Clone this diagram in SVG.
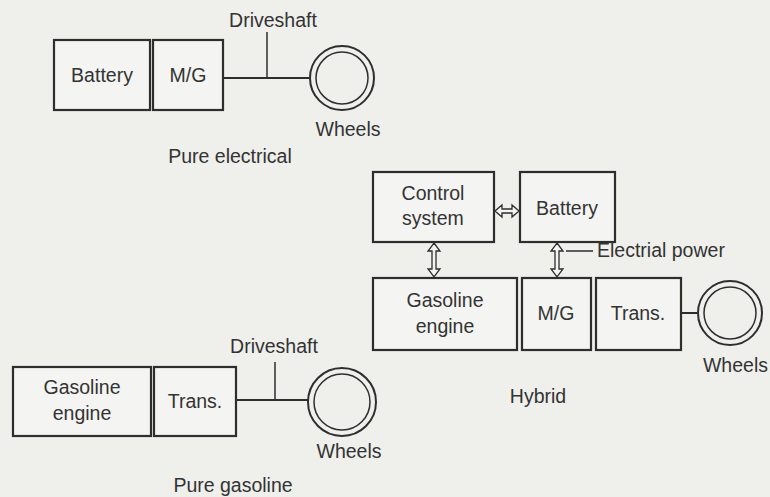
<svg xmlns="http://www.w3.org/2000/svg" width="770" height="497" viewBox="0 0 770 497">
<style>
.box{fill:#f4f4f2;stroke:#2e2e2e;stroke-width:2.2}
.ln{fill:none;stroke:#2e2e2e;stroke-width:2}
.thin{fill:none;stroke:#2e2e2e;stroke-width:1.5}
.ha{fill:#f4f4f2;stroke:#2e2e2e;stroke-width:1.3;stroke-linejoin:miter}
text{font-family:"Liberation Sans",Arial,sans-serif;font-size:19.5px;fill:#333;text-anchor:middle}
</style>
<rect width="770" height="497" fill="#efefec"/>

<g id="connectors">
  <line class="ln" x1="223" y1="78" x2="310" y2="78"/>
  <line class="thin" x1="267" y1="32" x2="267" y2="78"/>
  <line class="ln" x1="236" y1="400" x2="308" y2="400"/>
  <line class="thin" x1="275" y1="362" x2="275" y2="400"/>
  <line class="ln" x1="681" y1="313" x2="697" y2="313"/>
  <polygon class="ha" points="495,211 502,205 502,209 512,209 512,205 519,211 512,217 512,213 502,213 502,217"/>
  <polygon class="ha" points="434,243 440,251 436,251 436,269 440,269 434,277 428,269 432,269 432,251 428,251"/>
  <polygon class="ha" points="557,243 563,251 559,251 559,269 563,269 557,277 551,269 555,269 555,251 551,251"/>
  <line class="thin" x1="566" y1="251" x2="593" y2="251"/>
</g>

<g id="pe-battery"><rect class="box" x="54" y="40" width="96" height="70"/><text x="102" y="82">Battery</text></g>
<g id="pe-mg"><rect class="box" x="153" y="40" width="70" height="70"/><text x="188" y="82">M/G</text></g>
<g id="pe-wheel"><circle class="ln" cx="342" cy="78" r="32"/><circle class="thin" cx="342" cy="78" r="26"/></g>
<text x="273" y="27">Driveshaft</text>
<text x="348" y="136">Wheels</text>
<text x="230" y="163">Pure electrical</text>

<g id="hy-control"><rect class="box" x="373" y="172" width="121" height="70"/><text x="433" y="200">Control</text><text x="433" y="225">system</text></g>
<g id="hy-battery"><rect class="box" x="520" y="172" width="95" height="70"/><text x="567" y="215">Battery</text></g>
<g id="hy-engine"><rect class="box" x="373" y="278" width="144" height="72"/><text x="445" y="307">Gasoline</text><text x="445" y="333">engine</text></g>
<g id="hy-mg"><rect class="box" x="522" y="278" width="69" height="72"/><text x="556" y="320">M/G</text></g>
<g id="hy-trans"><rect class="box" x="596" y="278" width="85" height="72"/><text x="638" y="320">Trans.</text></g>
<g id="hy-wheel"><circle class="ln" cx="730" cy="313" r="32"/><circle class="thin" cx="730" cy="313" r="26"/></g>
<text x="597" y="257" style="text-anchor:start">Electrial power</text>
<text x="768" y="372" style="text-anchor:end">Wheels</text>
<text x="538" y="403">Hybrid</text>

<g id="pg-engine"><rect class="box" x="13" y="367" width="138" height="69"/><text x="82" y="394">Gasoline</text><text x="82" y="420">engine</text></g>
<g id="pg-trans"><rect class="box" x="154" y="367" width="82" height="69"/><text x="195" y="408">Trans.</text></g>
<g id="pg-wheel"><circle class="ln" cx="342" cy="402" r="34"/><circle class="thin" cx="342" cy="402" r="28"/></g>
<text x="274" y="353">Driveshaft</text>
<text x="349" y="458">Wheels</text>
<text x="233" y="492">Pure gasoline</text>
</svg>
